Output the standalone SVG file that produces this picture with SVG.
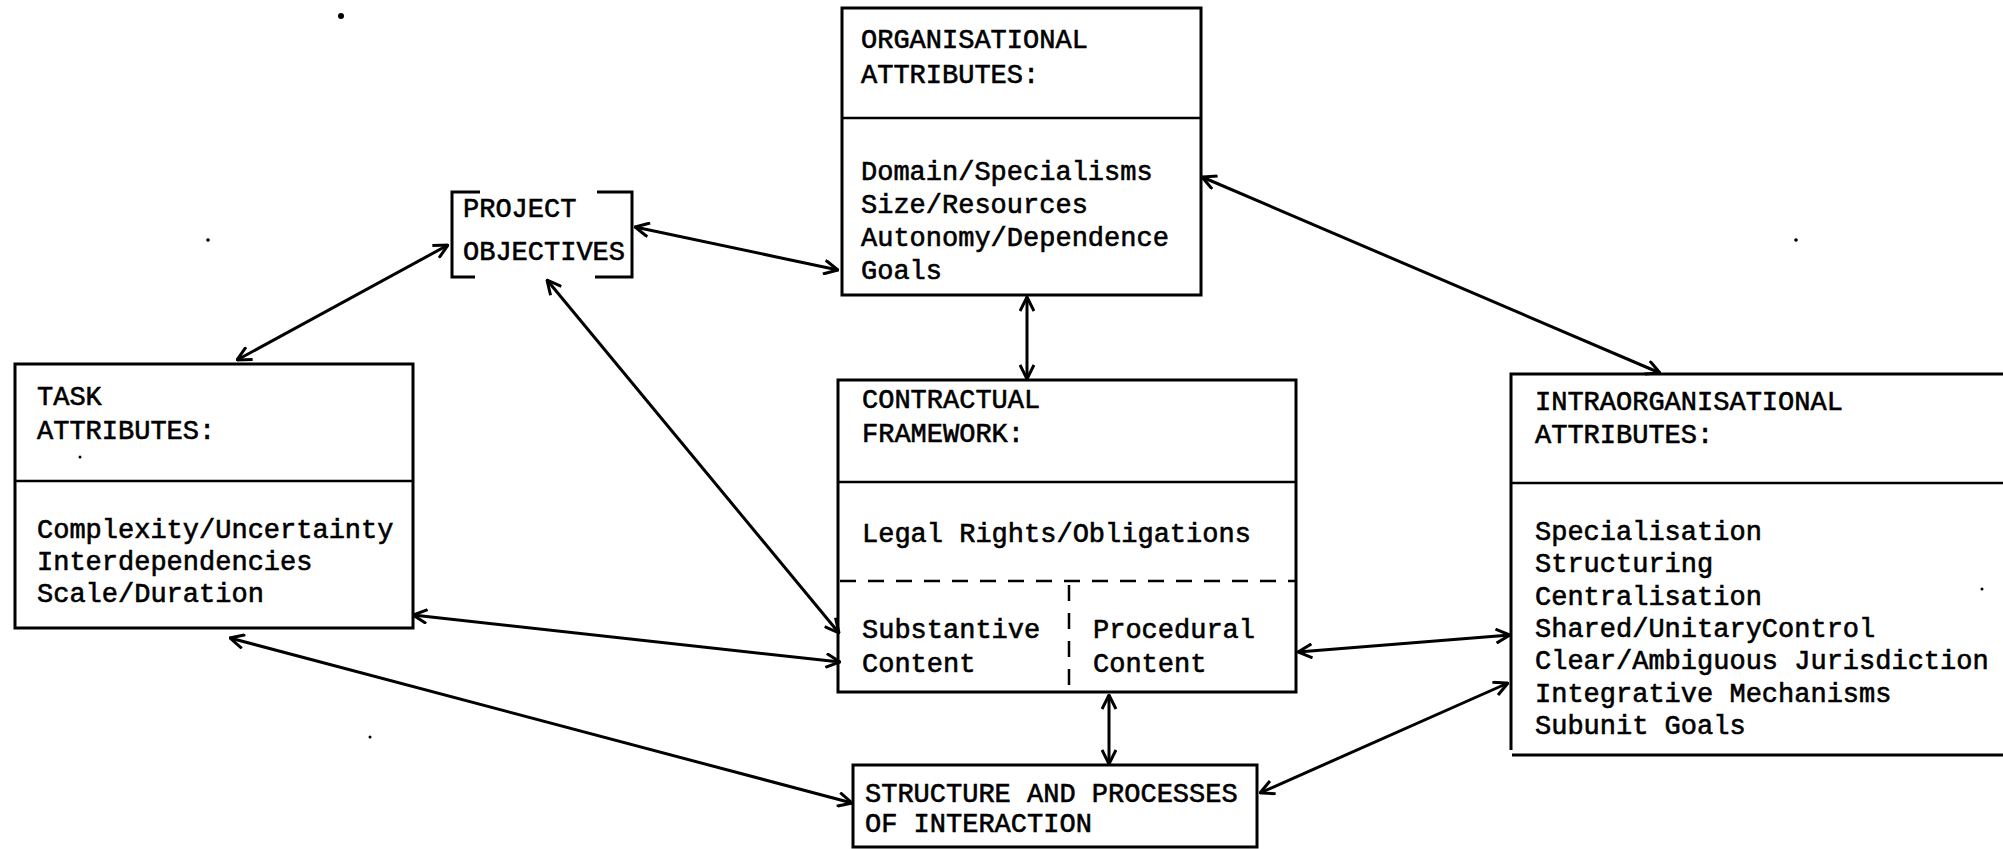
<svg xmlns="http://www.w3.org/2000/svg" width="2003" height="849" viewBox="0 0 2003 849">
<defs>
<style>
.box{fill:none;stroke:#000;stroke-width:3}
.div{stroke:#000;stroke-width:2.5;fill:none}
.dash{stroke:#000;stroke-width:2.5;stroke-dasharray:16 12;fill:none}
.t{font-family:"Liberation Mono","DejaVu Sans Mono",monospace;font-size:27px;fill:#000;stroke:#000;stroke-width:0.6}
.c{stroke:#000;stroke-width:3;fill:none;marker-start:url(#ah);marker-end:url(#ah)}
</style>
<marker id="ah" viewBox="0 0 16 16" refX="15" refY="8" markerWidth="16" markerHeight="16" markerUnits="userSpaceOnUse" orient="auto-start-reverse">
<path d="M1,1 L15,8 L1,15" fill="none" stroke="#000" stroke-width="3"/>
</marker>
</defs>
<rect width="2003" height="849" fill="#fff"/>

<g id="specks" fill="#000">
<circle cx="341" cy="16" r="3"/>
<circle cx="208" cy="240" r="1.8"/>
<circle cx="1796" cy="240" r="1.8"/>
<circle cx="370" cy="737" r="1.5"/>
<circle cx="80" cy="457" r="1.5"/>
<circle cx="1982" cy="589" r="1.5"/>
</g>

<g id="connectors">
<line class="c" x1="237" y1="360" x2="448" y2="245"/>
<line class="c" x1="635" y1="227" x2="838" y2="270"/>
<line class="c" x1="547" y1="280" x2="839" y2="633"/>
<line class="c" x1="413" y1="615" x2="840" y2="662"/>
<line class="c" x1="230" y1="638" x2="852" y2="803"/>
<line class="c" x1="1202" y1="177" x2="1660" y2="373"/>
<line class="c" x1="1027" y1="297" x2="1027" y2="379"/>
<line class="c" x1="1298" y1="652" x2="1510" y2="635"/>
<line class="c" x1="1260" y1="793" x2="1508" y2="683"/>
<line class="c" x1="1109" y1="695" x2="1109" y2="764"/>
</g>

<g id="project-objectives">
<path class="box" d="M480,192 H452 V277 H475 M597,192 H632 V277 H595"/>
<text class="t" x="463" y="217">PROJECT</text>
<text class="t" x="463" y="260">OBJECTIVES</text>
</g>

<g id="organisational-attributes">
<rect class="box" x="842" y="8" width="359" height="287"/>
<line class="div" x1="842" y1="118" x2="1201" y2="118"/>
<text class="t" x="861" y="48">ORGANISATIONAL</text>
<text class="t" x="861" y="83">ATTRIBUTES:</text>
<text class="t" x="861" y="180">Domain/Specialisms</text>
<text class="t" x="861" y="213">Size/Resources</text>
<text class="t" x="861" y="246">Autonomy/Dependence</text>
<text class="t" x="861" y="279">Goals</text>
</g>

<g id="task-attributes">
<rect class="box" x="15" y="364" width="398" height="264"/>
<line class="div" x1="15" y1="481" x2="413" y2="481"/>
<text class="t" x="37" y="405">TASK</text>
<text class="t" x="37" y="439">ATTRIBUTES:</text>
<text class="t" x="37" y="538">Complexity/Uncertainty</text>
<text class="t" x="37" y="570">Interdependencies</text>
<text class="t" x="37" y="602">Scale/Duration</text>
</g>

<g id="contractual-framework">
<rect class="box" x="838" y="380" width="458" height="312"/>
<line class="div" x1="838" y1="482" x2="1296" y2="482"/>
<line class="dash" x1="840" y1="581" x2="1296" y2="581"/>
<line class="dash" x1="1069" y1="585" x2="1069" y2="692"/>
<text class="t" x="862" y="408">CONTRACTUAL</text>
<text class="t" x="862" y="442">FRAMEWORK:</text>
<text class="t" x="862" y="542">Legal Rights/Obligations</text>
<text class="t" x="862" y="638">Substantive</text>
<text class="t" x="862" y="672">Content</text>
<text class="t" x="1093" y="638">Procedural</text>
<text class="t" x="1093" y="672">Content</text>
</g>

<g id="intraorganisational-attributes">
<path class="box" d="M2010,374 H1511 V750 M1512,755 H2010"/>
<line class="div" x1="1511" y1="483" x2="2010" y2="483"/>
<text class="t" x="1535" y="410">INTRAORGANISATIONAL</text>
<text class="t" x="1535" y="443">ATTRIBUTES:</text>
<text class="t" x="1535" y="540">Specialisation</text>
<text class="t" x="1535" y="572">Structuring</text>
<text class="t" x="1535" y="605">Centralisation</text>
<text class="t" x="1535" y="637">Shared/UnitaryControl</text>
<text class="t" x="1535" y="669">Clear/Ambiguous Jurisdiction</text>
<text class="t" x="1535" y="702">Integrative Mechanisms</text>
<text class="t" x="1535" y="734">Subunit Goals</text>
</g>

<g id="structure-and-processes">
<rect class="box" x="853" y="765" width="404" height="82"/>
<text class="t" x="865" y="802">STRUCTURE AND PROCESSES</text>
<text class="t" x="865" y="832">OF INTERACTION</text>
</g>
</svg>
